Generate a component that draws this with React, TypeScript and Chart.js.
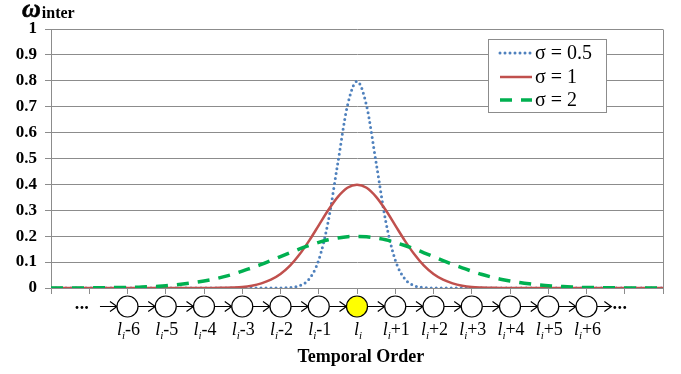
import React, { useEffect, useRef } from "react";
import { Chart, registerables } from "chart.js";

Chart.register(...registerables);

const FONT = "'Liberation Serif', 'Times New Roman', Times, serif";
const GRID = "#8c8c8c";

// x positions (temporal offset from l_i)
const X_VALUES = [
  -8, -7.75, -7.5, -7.25, -7, -6.75, -6.5, -6.25, -6, -5.75, -5.5, -5.25, -5,
  -4.75, -4.5, -4.25, -4, -3.75, -3.5, -3.25, -3, -2.75, -2.5, -2.25, -2, -1.75,
  -1.5, -1.25, -1, -0.75, -0.5, -0.25, 0, 0.25, 0.5, 0.75, 1, 1.25, 1.5, 1.75,
  2, 2.25, 2.5, 2.75, 3, 3.25, 3.5, 3.75, 4, 4.25, 4.5, 4.75, 5, 5.25, 5.5,
  5.75, 6, 6.25, 6.5, 6.75, 7, 7.25, 7.5, 7.75, 8,
];

const SIGMA_05 = [
  0, 0, 0, 0, 0, 0, 0, 0, 0, 0, 0, 0, 0, 0, 0, 0, 0, 0, 0, 0, 0, 0, 0, 0, 0,
  0.002, 0.009, 0.035, 0.108, 0.259, 0.484, 0.704, 0.798, 0.704, 0.484, 0.259,
  0.108, 0.035, 0.009, 0.002,
  0, 0, 0, 0, 0, 0, 0, 0, 0, 0, 0, 0, 0, 0, 0, 0, 0, 0, 0, 0, 0, 0, 0, 0, 0,
];

const SIGMA_1 = [
  0, 0, 0, 0, 0, 0, 0, 0, 0, 0, 0, 0, 0, 0, 0, 0, 0, 0,
  0.001, 0.002, 0.004, 0.009, 0.018, 0.032, 0.054, 0.086, 0.13, 0.183, 0.242,
  0.301, 0.352, 0.387, 0.399, 0.387, 0.352, 0.301, 0.242, 0.183, 0.13, 0.086,
  0.054, 0.032, 0.018, 0.009, 0.004, 0.002, 0.001,
  0, 0, 0, 0, 0, 0, 0, 0, 0, 0, 0, 0, 0, 0, 0, 0, 0, 0,
];

const SIGMA_2 = [
  0, 0, 0, 0, 0,
  0.001, 0.001, 0.002, 0.002, 0.003, 0.005, 0.006, 0.009, 0.012, 0.016, 0.021,
  0.027, 0.034, 0.043, 0.053, 0.065, 0.078, 0.091, 0.106, 0.121, 0.136, 0.151,
  0.164, 0.176, 0.186, 0.193, 0.198, 0.199, 0.198, 0.193, 0.186, 0.176, 0.164,
  0.151, 0.136, 0.121, 0.106, 0.091, 0.078, 0.065, 0.053, 0.043, 0.034, 0.027,
  0.021, 0.016, 0.012, 0.009, 0.006, 0.005, 0.003, 0.002, 0.002, 0.001, 0.001,
  0, 0, 0, 0, 0,
];

const SERIES_LABELS = ["σ = 0.5", "σ = 1", "σ = 2"];
const SERIES_COLORS = ["#4F81BD", "#C0504D", "#00B050"];

const NODE_OFFSETS = [-6, -5, -4, -3, -2, -1, 0, 1, 2, 3, 4, 5, 6];
const NODE_SUFFIXES = ["-6", "-5", "-4", "-3", "-2", "-1", "", "+1", "+2", "+3", "+4", "+5", "+6"];

const X_TITLE = "Temporal Order";
const Y_TITLE_MAIN = "ω";
const Y_TITLE_SUB = "inter";

const overlay = {
  id: "overlay",
  afterDraw(chart: any) {
    const ctx = chart.ctx as CanvasRenderingContext2D;
    const area = chart.chartArea;
    const xs = chart.scales.x;
    ctx.save();

    // right border of plot area
    ctx.strokeStyle = GRID;
    ctx.lineWidth = 1;
    ctx.beginPath();
    const rx = Math.round(area.right) + 0.5;
    ctx.moveTo(rx, Math.round(area.top) + 0.5);
    ctx.lineTo(rx, Math.round(area.bottom) + 0.5);
    ctx.stroke();

    // y title
    ctx.fillStyle = "#000";
    ctx.textBaseline = "alphabetic";
    ctx.textAlign = "left";
    ctx.font = `bold italic 26px ${FONT}`;
    ctx.fillText(Y_TITLE_MAIN, 22, 17);
    ctx.lineWidth = 0.6;
    ctx.strokeStyle = "#000";
    ctx.strokeText(Y_TITLE_MAIN, 22, 17);
    const ww = ctx.measureText(Y_TITLE_MAIN).width;
    ctx.font = `bold 16px ${FONT}`;
    ctx.fillText(Y_TITLE_SUB, 22 + ww + 1, 18);

    // legend
    const lx = 488.5, ly = 39.5, lw = 118, lh = 73;
    ctx.fillStyle = "#fff";
    ctx.fillRect(lx, ly, lw, lh);
    ctx.strokeStyle = GRID;
    ctx.lineWidth = 1;
    ctx.strokeRect(lx, ly, lw, lh);
    const rows = [53, 77, 100];
    SERIES_LABELS.forEach((lab, i) => {
      const y = rows[i];
      ctx.save();
      ctx.strokeStyle = SERIES_COLORS[i];
      if (i === 0) {
        ctx.lineWidth = 3;
        ctx.lineCap = "round";
        ctx.setLineDash([0, 5]);
      } else if (i === 1) {
        ctx.lineWidth = 2.5;
        ctx.lineCap = "butt";
      } else {
        ctx.lineWidth = 3.5;
        ctx.lineCap = "butt";
        ctx.setLineDash([12, 9]);
      }
      ctx.beginPath();
      ctx.moveTo(500, y);
      ctx.lineTo(532, y);
      ctx.stroke();
      ctx.restore();
      ctx.fillStyle = "#000";
      ctx.font = `20px ${FONT}`;
      ctx.textBaseline = "middle";
      ctx.textAlign = "left";
      ctx.fillText(lab, 535, y + 1);
    });

    // node chain
    const cy = area.bottom + 18.5;
    const r = 10.5;
    const arrow = (x1: number, x2: number) => {
      ctx.beginPath();
      ctx.moveTo(x1, cy);
      ctx.lineTo(x2, cy);
      ctx.moveTo(x2 - 7, cy - 5);
      ctx.lineTo(x2, cy);
      ctx.lineTo(x2 - 7, cy + 5);
      ctx.stroke();
    };
    ctx.strokeStyle = "#000";
    ctx.lineWidth = 1.2;
    const px = NODE_OFFSETS.map((k) => xs.getPixelForValue(k));
    arrow(xs.getPixelForValue(-6.72), px[0] - r);
    for (let i = 0; i < px.length - 1; i++) arrow(px[i] + r, px[i + 1] - r);
    arrow(px[px.length - 1] + r, xs.getPixelForValue(6.65));
    NODE_OFFSETS.forEach((k, i) => {
      ctx.beginPath();
      ctx.arc(px[i], cy, r, 0, Math.PI * 2);
      ctx.fillStyle = k === 0 ? "#FFFF00" : "#fff";
      ctx.fill();
      ctx.stroke();
    });
    ctx.fillStyle = "#000";
    [-7.32, -7.19, -7.07, 6.74, 6.87, 7.0].forEach((v) => {
      ctx.beginPath();
      ctx.arc(xs.getPixelForValue(v), cy + 1, 1.4, 0, Math.PI * 2);
      ctx.fill();
    });

    // node labels
    const by = area.bottom + 47;
    NODE_SUFFIXES.forEach((suf, i) => {
      ctx.font = `italic 18px ${FONT}`;
      const wl = ctx.measureText("l").width;
      ctx.font = `italic 11px ${FONT}`;
      const wi = ctx.measureText("i").width;
      ctx.font = `18px ${FONT}`;
      const ws = ctx.measureText(suf).width;
      const total = wl + wi + ws;
      let x = px[i] - total / 2 + 1;
      ctx.textAlign = "left";
      ctx.textBaseline = "alphabetic";
      ctx.font = `italic 18px ${FONT}`;
      ctx.fillText("l", x, by);
      x += wl;
      ctx.font = `italic 11px ${FONT}`;
      ctx.fillText("i", x, by + 4);
      x += wi;
      ctx.font = `18px ${FONT}`;
      ctx.fillText(suf, x, by);
    });

    // x title
    ctx.font = `bold 18px ${FONT}`;
    ctx.textAlign = "center";
    ctx.fillText(X_TITLE, xs.getPixelForValue(0.1), 362);

    ctx.restore();
  },
};

export default function App() {
  const ref = useRef<HTMLCanvasElement>(null);
  useEffect(() => {
    const mk = (vals: number[]) => X_VALUES.map((x, i) => ({ x, y: vals[i] }));
    const chart = new Chart(ref.current!, {
      type: "line",
      data: {
        datasets: [
          {
            label: SERIES_LABELS[0],
            data: mk(SIGMA_05),
            borderColor: SERIES_COLORS[0],
            borderWidth: 3,
            borderDash: [0, 5],
            borderCapStyle: "round",
            pointRadius: 0,
            cubicInterpolationMode: "monotone",
            order: 3,
          },
          {
            label: SERIES_LABELS[1],
            data: mk(SIGMA_1),
            borderColor: SERIES_COLORS[1],
            borderWidth: 2.5,
            pointRadius: 0,
            cubicInterpolationMode: "monotone",
            order: 2,
          },
          {
            label: SERIES_LABELS[2],
            data: mk(SIGMA_2),
            borderColor: SERIES_COLORS[2],
            borderWidth: 3.5,
            borderDash: [12, 9],
            pointRadius: 0,
            cubicInterpolationMode: "monotone",
            order: 1,
          },
        ],
      },
      options: {
        responsive: false,
        animation: false,
        layout: { padding: { top: 29, right: 18, left: 0, bottom: 0 } },
        plugins: { legend: { display: false }, tooltip: { enabled: false } },
        scales: {
          x: {
            type: "linear",
            min: -8,
            max: 8,
            ticks: { display: false, stepSize: 1 },
            grid: { drawOnChartArea: false, drawTicks: true, tickLength: 6, color: GRID },
            border: { color: GRID, width: 1 },
            afterFit: (s: any) => {
              s.height = 86;
            },
          },
          y: {
            min: 0,
            max: 1,
            ticks: {
              stepSize: 0.1,
              color: "#000",
              padding: 8,
              font: { family: FONT, size: 17, weight: "bold" },
              callback: (v: any) => String(Math.round(Number(v) * 10) / 10),
            },
            grid: { color: GRID, tickLength: 6 },
            border: { color: GRID, width: 1 },
            afterFit: (s: any) => {
              s.width = 51;
            },
          },
        },
      },
      plugins: [overlay],
    } as any);
    return () => chart.destroy();
  }, []);
  return (
    <div style={{ position: "absolute", left: 0, top: 0, width: 681, height: 374, background: "#fff" }}>
      <canvas ref={ref} width={681} height={374} style={{ display: "block" }} />
    </div>
  );
}
